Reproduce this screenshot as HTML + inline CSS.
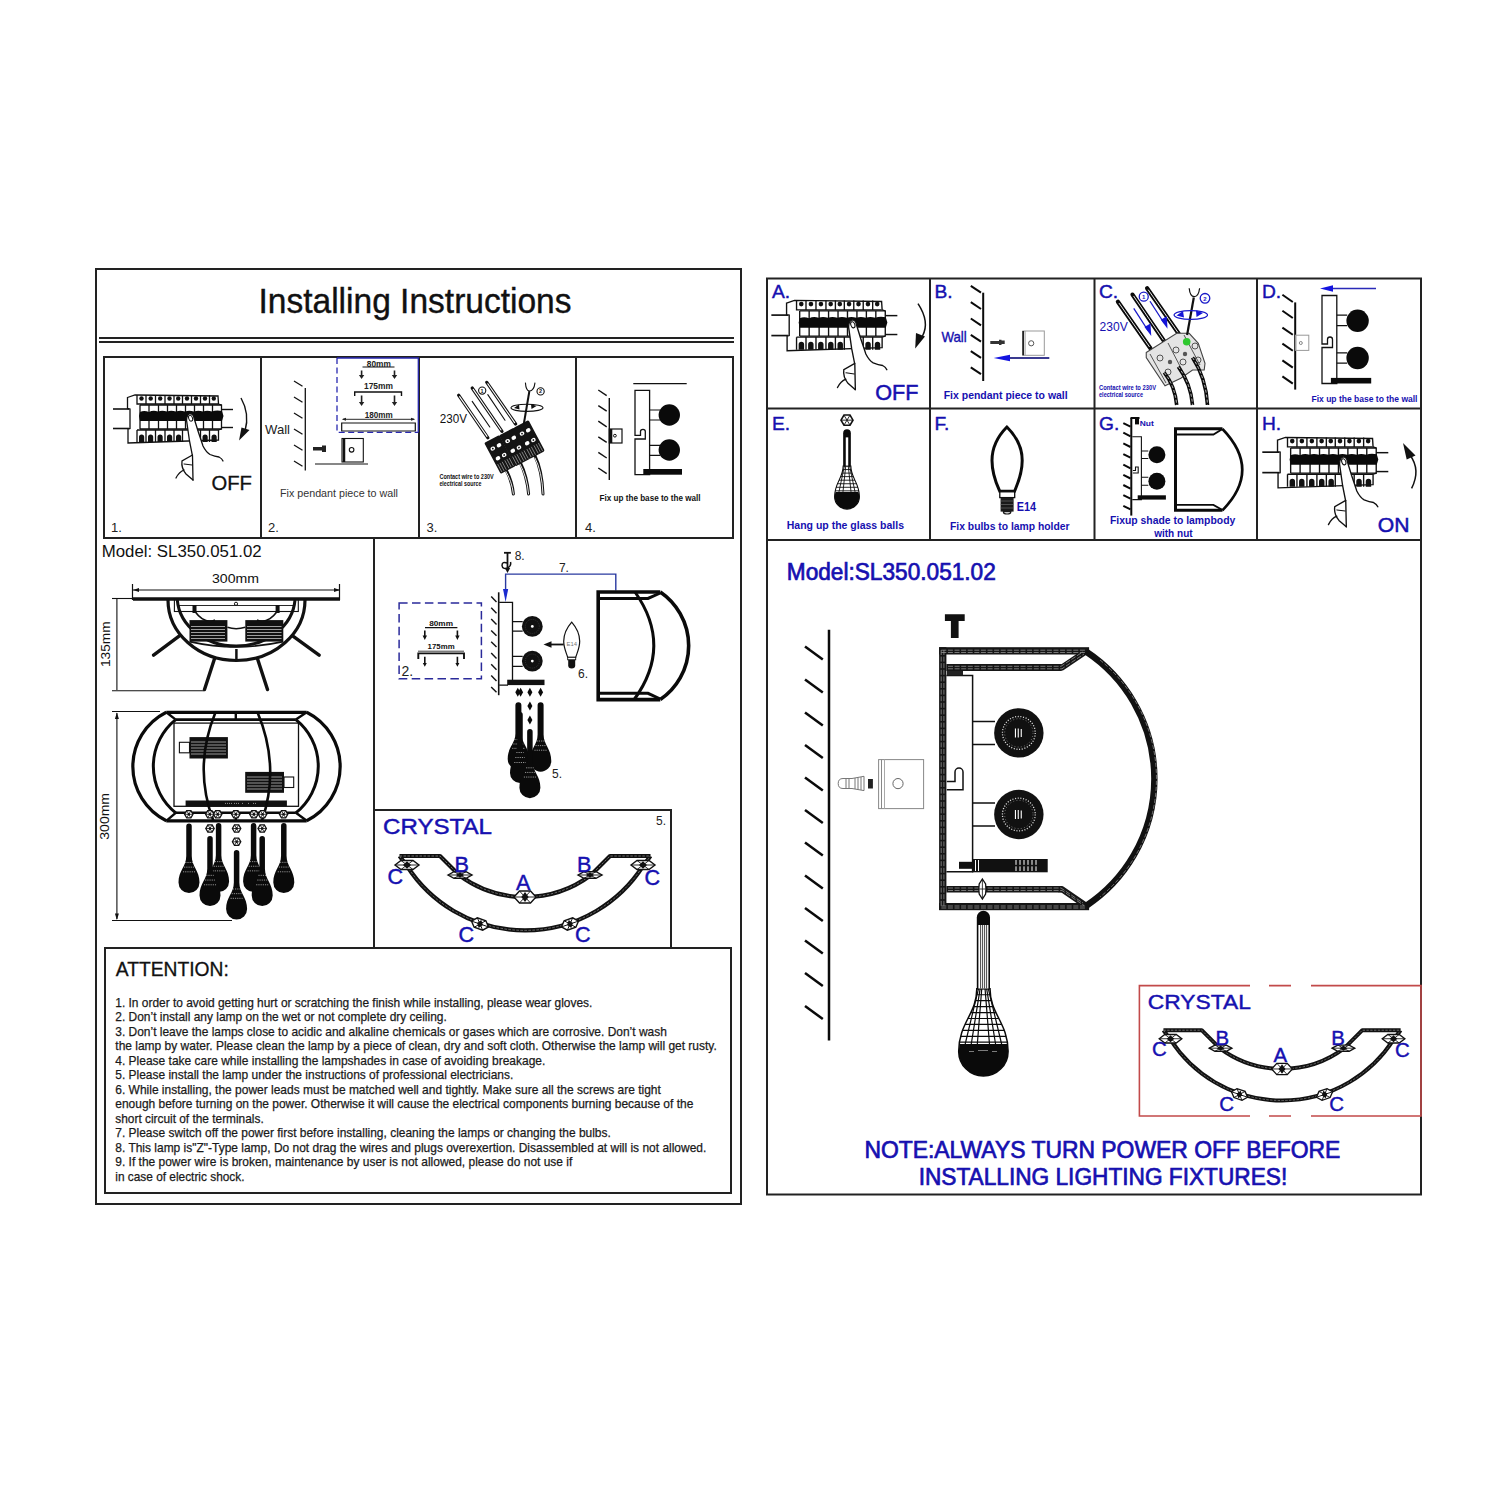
<!DOCTYPE html>
<html><head><meta charset="utf-8">
<style>
html,body{margin:0;padding:0;background:#fff;width:1500px;height:1500px;overflow:hidden;}
svg{display:block;}
text{font-family:"Liberation Sans",sans-serif;}
</style></head><body>
<svg width="1500" height="1500" viewBox="0 0 1500 1500">
<rect width="1500" height="1500" fill="#fff"/>
<defs>
  <g id="breaker">
    <g stroke="#111" stroke-width="1.3" fill="#fff">
      <line x1="113" y1="409" x2="129" y2="409" stroke-width="1.6"/>
      <line x1="113" y1="428.5" x2="129" y2="428.5" stroke-width="1.6"/>
      <line x1="221" y1="409.5" x2="233" y2="409.5" stroke-width="1.4"/>
      <line x1="221" y1="427.5" x2="233" y2="427.5" stroke-width="1.4"/>
      <path d="M127.5 397.5 L135 395 L218 396 L218.5 404 L221.5 405 L221.5 429 L218.5 430 L218.5 440 L128 443 L128 429 L130 428.5 L130 409 L127.5 408.5 Z"/>
      <path d="M137 395 V404 H218 M146 395 V404 M155.5 395 V404 M165 395 V404 M174 395 V404 M182.5 395 V404 M191.5 395 V404 M200.5 395 V404 M209.5 395 V404" fill="none"/>
      <path d="M140 405 H221.5 M140 405 V429 M149 405 V429 M158.5 405 V429 M167.5 405 V429 M176.5 405 V429 M185.5 405 V429 M194.5 405 V429 M203.5 405 V429 M212.5 405 V429 M140 429 H221.5" fill="none"/>
      <path d="M137 430 V442 M137 430 H218.5 M146 430 V442 M155.5 430 V442 M165 430 V442 M174 430 V442 M182.5 430 V442 M191.5 430 V442 M200.5 430 V442 M209.5 430 V442" fill="none"/>
    </g>
    <path d="M140 412 Q144 410 149 412 Q153 410 158 411.5 Q162 410 167 411.5 Q171 410 176 411.5 Q180 410 185 411.5 Q189 410 194 411.5 Q198 410 203 411.5 Q207 410 212 411.5 Q216 410 222 411 L223.5 416 L222 421 H140 L139 416 Z" fill="#0a0a0a"/>
    <g fill="#111">
      <circle cx="141.5" cy="398.5" r="2.2"/><circle cx="150.7" cy="398.5" r="2.2"/><circle cx="160.2" cy="398.5" r="2.2"/><circle cx="169.5" cy="398.5" r="2.2"/><circle cx="178.2" cy="398.5" r="2.2"/><circle cx="187" cy="398.5" r="2.2"/><circle cx="196" cy="398.5" r="2.2"/><circle cx="205" cy="398.5" r="2.2"/><circle cx="213.8" cy="398.5" r="2.2"/>
      <path d="M139 442 V437 A2.6 2.6 0 0 1 144.2 437 V442 Z M148 442 V437 A2.6 2.6 0 0 1 153.2 437 V442 Z M157.5 442 V437 A2.6 2.6 0 0 1 162.7 437 V442 Z M167 442 V437 A2.6 2.6 0 0 1 172.2 437 V442 Z M176 442 V437 A2.6 2.6 0 0 1 181.2 437 V442 Z M202.5 442 V437 A2.6 2.6 0 0 1 207.7 437 V442 Z M211.5 442 V437 A2.6 2.6 0 0 1 216.7 437 V442 Z"/>
    </g>
    <!-- hand -->
    <path d="M186.5 420 Q187 413.5 190.5 413.5 Q193.5 414 194 418 L198 431 L203 446 Q206 452 210 454.5 Q215 456.5 219 457 Q222 458.5 223 461 L214 482 L193 482 L176 478 Q180 470 184 470 Q181 466 182 461 L192.5 456 L189.5 441 Z" fill="#fff" stroke="none"/>
    <g fill="none" stroke="#111" stroke-width="1.3" stroke-linecap="round">
      <path d="M186.5 420 Q187 413.5 190.5 413.5 Q193.5 414 194 418 L198 431 L203 446 Q206 452 210 454.5 Q215 456.5 219 457 Q222 458.5 223 461"/>
      <path d="M186.5 420 L189.5 441 L192.5 456 L193 480"/>
      <path d="M192.5 455 L182 461 Q181 468 186 474 L193 480"/>
      <path d="M176 478 Q179 472 184 470"/>
      <path d="M184 464 L192 465" stroke-width="1"/>
      <ellipse cx="190.6" cy="418.2" rx="1.9" ry="3" transform="rotate(-20 190.6 418.2)" stroke-width="1"/>
    </g>
  </g>
</defs>

<!-- ================= LEFT PAGE FRAME ================= -->
<g fill="none" stroke="#222" stroke-width="2">
  <rect x="96" y="269" width="645" height="935"/>
  <line x1="99" y1="338" x2="734" y2="338"/>
  <line x1="99" y1="342" x2="734" y2="342"/>
  <rect x="104" y="357" width="629" height="181"/>
  <line x1="261" y1="357" x2="261" y2="538"/>
  <line x1="419" y1="357" x2="419" y2="538"/>
  <line x1="576" y1="357" x2="576" y2="538"/>
  <line x1="374" y1="538" x2="374" y2="948"/>
  <rect x="374" y="810" width="297" height="138"/>
  <rect x="105" y="948" width="626" height="245"/>
</g>
<text x="258.5" y="312.7" font-size="35" fill="#111" stroke="#111" stroke-width="0.4" textLength="313" lengthAdjust="spacingAndGlyphs">Installing Instructions</text>

<!-- step numbers -->
<g font-size="13" fill="#222">
  <text x="111" y="531.5">1.</text>
  <text x="268" y="531.5">2.</text>
  <text x="426.5" y="531.5">3.</text>
  <text x="585" y="531.5">4.</text>
</g>

<!-- step 1 -->
<use href="#breaker"/>
<path d="M241 398 Q250 414 245 431" fill="none" stroke="#111" stroke-width="1.4"/>
<path d="M239 440.5 L241.5 427.5 L249.5 430 Z" fill="#111"/>
<text x="211.5" y="489.7" font-size="19.5" fill="#111" stroke="#111" stroke-width="0.3" textLength="40.5" lengthAdjust="spacingAndGlyphs">OFF</text>
<!-- step A -->
<use href="#breaker" transform="translate(652.7,-114.35) scale(1.05)"/>
<path d="M918 303.7 Q930 322 922.5 336" fill="none" stroke="#111" stroke-width="1.5"/>
<path d="M915.2 348.5 L916 333 L925 336.5 Z" fill="#111"/>
<text x="875.3" y="400.4" font-size="21.5" fill="#1610b0" stroke="#1610b0" stroke-width="0.5" textLength="43.2" lengthAdjust="spacingAndGlyphs">OFF</text>
<!-- step H -->
<use href="#breaker" transform="translate(1143.65,22.7) scale(1.05)"/>
<path d="M1411.6 488.3 Q1421 470 1410 455" fill="none" stroke="#111" stroke-width="1.5"/>
<path d="M1403 443 L1406.7 459.5 L1415.5 455.5 Z" fill="#111"/>
<text x="1377.8" y="532" font-size="21" fill="#1610b0" stroke="#1610b0" stroke-width="0.5" textLength="31.7" lengthAdjust="spacingAndGlyphs">ON</text>

<!-- step 2 -->
<g stroke="#111" stroke-width="1.3" fill="none">
  <line x1="294" y1="381.0" x2="302.5" y2="386.3"/><line x1="294" y1="397.0" x2="302.5" y2="402.3"/><line x1="294" y1="413.0" x2="302.5" y2="418.3"/><line x1="294" y1="429.0" x2="302.5" y2="434.3"/><line x1="294" y1="445.0" x2="302.5" y2="450.3"/><line x1="294" y1="461.0" x2="302.5" y2="466.3"/>
  <line x1="305.3" y1="388" x2="305.3" y2="470.5"/>
  <line x1="315" y1="464" x2="368" y2="464" stroke-width="1.2"/>
  <rect x="342" y="438.5" width="21.3" height="23.5" stroke-width="1.1"/>
  <line x1="344" y1="438.5" x2="344" y2="462" stroke-width="2.5"/>
  <circle cx="351.6" cy="449.8" r="2.3" stroke-width="1.1"/>
  <path d="M341.7 423 H415.3 V431 H341.7 Z" stroke-width="1.2"/>
  <path d="M343 419.3 H414" stroke-width="0.9"/>
  <path d="M354.7 396 V392 H401.5 V396" stroke-width="1.4"/>
  <line x1="362.5" y1="367" x2="394.5" y2="367" stroke-width="1"/>
</g>
<path d="M313 447 H322 V445.5 H326 V452 H322 V450.5 H313 Z" fill="#222"/>
<g fill="#222">
  <path d="M341.7 419.3 L346 417.8 V420.8 Z M415.3 419.3 L411 417.8 V420.8 Z"/>
  <path d="M360.8 370.5 H362.4 V375 H364.3 L361.6 379 L358.9 375 H360.8 Z M393.7 370.5 H395.3 V375 H397.2 L394.5 379 L391.8 375 H393.7 Z"/>
  <path d="M360.8 395.5 H362.4 V402 H364.3 L361.6 406 L358.9 402 H360.8 Z M393.7 395.5 H395.3 V402 H397.2 L394.5 406 L391.8 402 H393.7 Z"/>
</g>
<g font-size="8.6" fill="#222" font-weight="bold">
  <text x="366.8" y="366.5" textLength="24" lengthAdjust="spacingAndGlyphs">80mm</text>
  <text x="364" y="389.3" textLength="29" lengthAdjust="spacingAndGlyphs">175mm</text>
  <text x="364.7" y="417.8" textLength="28" lengthAdjust="spacingAndGlyphs">180mm</text>
</g>
<g stroke="#2828b0" stroke-width="1.3" fill="none">
  <path d="M337 358 V432.3 H418.3" stroke-dasharray="6 3.5"/>
  <path d="M337 358 H418.3 V432.3"/>
</g>
<text x="265" y="434" font-size="13" fill="#222" textLength="25" lengthAdjust="spacingAndGlyphs">Wall</text>
<text x="280" y="496.7" font-size="11" fill="#333" textLength="118" lengthAdjust="spacingAndGlyphs">Fix pendant piece to wall</text>

<!-- step B -->
<g stroke="#0a0a0a" stroke-width="2" fill="none">
  <line x1="970.8" y1="285.9" x2="981" y2="292.7"/><line x1="970.8" y1="302.2" x2="981" y2="309.0"/><line x1="970.8" y1="318.5" x2="981" y2="325.3"/><line x1="970.8" y1="334.8" x2="981" y2="341.6"/><line x1="970.8" y1="351.1" x2="981" y2="357.9"/><line x1="970.8" y1="367.4" x2="981" y2="374.2"/>
  <line x1="983.2" y1="292.7" x2="983.2" y2="381"/>
</g>
<path d="M990.3 341 H999 V339.8 H1001.5 V340.5 H1004.7 V344 H1001.5 V345 H999 V344 H990.3 Z" fill="#333"/>
<rect x="1022.8" y="331" width="21.5" height="24.3" fill="none" stroke="#999" stroke-width="1"/>
<line x1="1023.2" y1="331" x2="1023.2" y2="355.3" stroke="#222" stroke-width="1.8"/>
<line x1="1025.2" y1="331" x2="1025.2" y2="355.3" stroke="#999" stroke-width="0.8"/>
<circle cx="1031.2" cy="343.3" r="2.6" fill="none" stroke="#555" stroke-width="1"/>
<line x1="1008" y1="358" x2="1049.3" y2="358" stroke="#3a3a90" stroke-width="2"/>
<path d="M993.7 358 L1010 354.8 V361.2 Z" fill="#1414e0"/>
<text x="941.4" y="342" font-size="14.5" fill="#1610b0" stroke="#1610b0" stroke-width="0.35" textLength="25.4" lengthAdjust="spacingAndGlyphs">Wall</text>
<text x="943.7" y="399.2" font-size="11" font-weight="bold" fill="#1610b0" textLength="124" lengthAdjust="spacingAndGlyphs">Fix pendant piece to wall</text>

<!-- step 4 -->
<g stroke="#111" stroke-width="1.4" fill="none">
  <line x1="598.3" y1="390.0" x2="606.7" y2="395.6"/><line x1="598.3" y1="405.6" x2="606.7" y2="411.2"/><line x1="598.3" y1="421.2" x2="606.7" y2="426.8"/><line x1="598.3" y1="436.8" x2="606.7" y2="442.4"/><line x1="598.3" y1="452.4" x2="606.7" y2="458.0"/><line x1="598.3" y1="468.0" x2="606.7" y2="473.6"/>
  <line x1="609.3" y1="398" x2="609.3" y2="480"/>
  <rect x="609.3" y="429" width="12.7" height="14" stroke-width="1.2"/>
  <line x1="633.3" y1="383.6" x2="686.7" y2="383.6" stroke-width="1.3"/>
  <path d="M635 390.4 H649.6 V474.7 H635 V439 H645.3 V431.5 Q645.3 429.3 643 429.3 Q640.5 429.3 640.5 431.5 V435.3 H635 Z" stroke-width="1.3"/>
  <path d="M649.6 410 H660 M649.6 420 H660 M649.6 445.3 H660 M649.6 455.3 H660" stroke-width="1.2"/>
</g>
<rect x="609.3" y="429" width="3" height="14" fill="#111"/>
<circle cx="614.9" cy="435.7" r="1.4" fill="none" stroke="#111" stroke-width="1"/>
<g fill="#0a0a0a">
  <circle cx="669.3" cy="415" r="10.7"/><circle cx="669.3" cy="450" r="10.7"/>
  <rect x="643.3" y="469" width="38.7" height="5.7"/>
</g>
<text x="599.6" y="500.7" font-size="9" font-weight="bold" fill="#111" textLength="101" lengthAdjust="spacingAndGlyphs">Fix up the base to the wall</text>

<!-- step D -->
<g stroke="#0a0a0a" stroke-width="2" fill="none">
  <line x1="1282.4" y1="294.8" x2="1292.8" y2="302.0"/><line x1="1282.4" y1="310.8" x2="1292.8" y2="318.0"/><line x1="1282.4" y1="327.6" x2="1292.8" y2="334.8"/><line x1="1282.4" y1="343.6" x2="1292.8" y2="350.8"/><line x1="1282.4" y1="360.4" x2="1292.8" y2="367.6"/><line x1="1282.4" y1="376.4" x2="1292.8" y2="383.6"/>
  <line x1="1295.2" y1="302.4" x2="1295.2" y2="389.6"/>
</g>
<rect x="1295.5" y="335.2" width="13.3" height="15.2" fill="none" stroke="#999" stroke-width="1"/>
<circle cx="1300.8" cy="343" r="1.5" fill="none" stroke="#777" stroke-width="0.9"/>
<g stroke="#111" stroke-width="1.3" fill="none">
  <path d="M1322 295.5 H1336.8 V383.5 H1322 V347.5 H1332.5 V339.5 Q1332.5 337 1330 337 Q1327.5 337 1327.5 339.5 V344 H1322 Z"/>
  <path d="M1336.8 315.2 H1347.2 M1336.8 325.6 H1347.2 M1336.8 352.8 H1347.2 M1336.8 363.2 H1347.2" stroke-width="1.2"/>
</g>
<g fill="#0a0a0a">
  <circle cx="1357.6" cy="320.8" r="11.2"/><circle cx="1357.6" cy="358" r="11.2"/>
  <rect x="1330.9" y="377.9" width="40.3" height="5.6"/>
</g>
<line x1="1330" y1="288.5" x2="1376" y2="288.5" stroke="#2a2ab8" stroke-width="1.6"/>
<path d="M1320 288.5 L1333 285.3 V291.7 Z" fill="#1414e0"/>
<text x="1311.5" y="402" font-size="9.5" font-weight="bold" fill="#1610b0" textLength="106" lengthAdjust="spacingAndGlyphs">Fix up the base to the wall</text>

<!-- step G -->
<g stroke="#0a0a0a" stroke-width="2" fill="none">
  <line x1="1123.3" y1="423.1" x2="1130.5" y2="426.7"/><line x1="1123.3" y1="432.7" x2="1130.5" y2="436.3"/><line x1="1123.3" y1="443.4" x2="1130.5" y2="447.0"/><line x1="1123.3" y1="454.1" x2="1130.5" y2="457.7"/><line x1="1123.3" y1="464.7" x2="1130.5" y2="468.3"/><line x1="1123.3" y1="474.9" x2="1130.5" y2="478.5"/><line x1="1123.3" y1="485.0" x2="1130.5" y2="488.6"/><line x1="1123.3" y1="495.1" x2="1130.5" y2="498.7"/><line x1="1123.3" y1="505.8" x2="1130.5" y2="509.4"/>
  <line x1="1131.3" y1="418" x2="1131.3" y2="515.6"/>
  <line x1="1130.5" y1="418" x2="1139.5" y2="418"/>
</g>
<rect x="1135" y="418" width="4" height="6.4" fill="#0a0a0a"/>
<text x="1139.8" y="426" font-size="7.8" font-weight="bold" fill="#1610b0" textLength="14" lengthAdjust="spacingAndGlyphs">Nut</text>
<g stroke="#111" stroke-width="1.1" fill="none">
  <path d="M1132.3 436.7 H1141.4 V499.6 H1132.3"/>
  <path d="M1132.9 473 H1138.2 V467 H1135.5 V470.5 H1132.9"/>
  <path d="M1141.4 451 H1148.3 M1141.4 458.5 H1148.3 M1141.4 477.2 H1148.3 M1141.4 485.2 H1148.3"/>
</g>
<g fill="#0a0a0a">
  <circle cx="1156.9" cy="454.8" r="8.5"/><circle cx="1156.9" cy="481.3" r="8.5"/>
  <rect x="1137.7" y="495.3" width="28.2" height="4.3"/>
</g>
<g stroke="#0a0a0a" fill="none">
  <path d="M1222.5 428.7 H1175.5 V510.3 H1222.5" stroke-width="3"/>
  <path d="M1177 434.5 H1213.4 L1222.5 429 M1177 504.9 H1213.4 L1222.5 510" stroke-width="1.8"/>
  <path d="M1222.5 429 Q1262 470 1222.5 510.3" stroke-width="2.6"/>
</g>
<text x="1109.9" y="523.6" font-size="11" font-weight="bold" fill="#1610b0" textLength="125.4" lengthAdjust="spacingAndGlyphs">Fixup shade to lampbody</text>
<text x="1154.2" y="537" font-size="11" font-weight="bold" fill="#1610b0" textLength="38.4" lengthAdjust="spacingAndGlyphs">with nut</text>

<!-- step 3 -->
<g stroke-linecap="round" fill="none">
  <g stroke="#111" stroke-width="3.2">
    <line x1="458.6" y1="395.2" x2="487.9" y2="437.8"/>
    <line x1="472.2" y1="388" x2="502" y2="431.4"/>
    <line x1="486.8" y1="382.4" x2="515.6" y2="424"/>
  </g>
  <g stroke="#fff" stroke-width="1.1">
    <line x1="459.6" y1="396.6" x2="487" y2="436.4"/>
    <line x1="473.2" y1="389.4" x2="501" y2="430"/>
    <line x1="487.8" y1="383.8" x2="514.6" y2="422.6"/>
  </g>
  <g stroke="#111" stroke-width="1.1">
    <line x1="472.2" y1="401.4" x2="489.8" y2="427"/>
    <line x1="487.8" y1="394.6" x2="505" y2="420.2"/>
  </g>
  <g stroke="#111" stroke-width="3">
    <path d="M505 468 Q512 480 513.4 494"/>
    <path d="M520 462 Q527 476 528.6 494"/>
    <path d="M535 456 Q542 470 543 494"/>
  </g>
  <g stroke="#fff" stroke-width="0.9">
    <path d="M505 470 Q512 481 513.4 494"/>
    <path d="M520 464 Q527 477 528.6 494"/>
    <path d="M535 458 Q542 471 543 494"/>
  </g>
</g>
<g transform="translate(484.2,443) rotate(-28)">
  <rect x="0" y="0" width="17" height="35" rx="1.5" fill="#141414"/>
  <path d="M0 2 Q4 -1 8.5 2 Q13 -1 17 2" fill="#141414"/>
  <ellipse cx="5" cy="9" rx="2.4" ry="2" fill="#fff"/><ellipse cx="12" cy="9" rx="2.4" ry="2" fill="#fff"/>
  <ellipse cx="5" cy="20" rx="2.4" ry="2" fill="#fff"/><ellipse cx="12" cy="20" rx="2.4" ry="2" fill="#fff"/>
  <circle cx="5" cy="9" r="0.9" fill="#141414"/><circle cx="12" cy="20" r="0.9" fill="#141414"/>
  <path d="M2 25 V34 M4.5 25 V34 M7 25 V34 M10 25 V34 M12.5 25 V34 M15 25 V34" stroke="#fff" stroke-width="0.6" opacity="0.7"/>
</g>
<g transform="translate(499,435.5) rotate(-28)">
  <rect x="0" y="0" width="17" height="35" rx="1.5" fill="#141414"/>
  <path d="M0 2 Q4 -1 8.5 2 Q13 -1 17 2" fill="#141414"/>
  <ellipse cx="5" cy="9" rx="2.4" ry="2" fill="#fff"/><ellipse cx="12" cy="9" rx="2.4" ry="2" fill="#fff"/>
  <ellipse cx="5" cy="20" rx="2.4" ry="2" fill="#fff"/><ellipse cx="12" cy="20" rx="2.4" ry="2" fill="#fff"/>
  <circle cx="5" cy="9" r="0.9" fill="#141414"/><circle cx="12" cy="20" r="0.9" fill="#141414"/>
  <path d="M2 25 V34 M4.5 25 V34 M7 25 V34 M10 25 V34 M12.5 25 V34 M15 25 V34" stroke="#fff" stroke-width="0.6" opacity="0.7"/>
</g>
<g transform="translate(513.4,428) rotate(-28)">
  <rect x="0" y="0" width="17" height="35" rx="1.5" fill="#141414"/>
  <path d="M0 2 Q4 -1 8.5 2 Q13 -1 17 2" fill="#141414"/>
  <ellipse cx="5" cy="9" rx="2.4" ry="2" fill="#fff"/><ellipse cx="12" cy="9" rx="2.4" ry="2" fill="#fff"/>
  <ellipse cx="5" cy="20" rx="2.4" ry="2" fill="#fff"/><ellipse cx="12" cy="20" rx="2.4" ry="2" fill="#fff"/>
  <circle cx="5" cy="9" r="0.9" fill="#141414"/><circle cx="12" cy="20" r="0.9" fill="#141414"/>
  <path d="M2 25 V34 M4.5 25 V34 M7 25 V34 M10 25 V34 M12.5 25 V34 M15 25 V34" stroke="#fff" stroke-width="0.6" opacity="0.7"/>
</g>
<g stroke="#111" fill="none" stroke-width="1.1">
  <circle cx="482.2" cy="390.6" r="3.6"/>
  <circle cx="540.6" cy="391.4" r="3.6"/>
  <path d="M525.4 382.6 Q526 391 529.4 391 Q534 391 535 382.6"/>
  <path d="M529.4 391 L523.8 424" stroke-width="2"/>
  <ellipse cx="527" cy="407.8" rx="16" ry="3.6"/>
</g>
<g fill="#111"><path d="M514 408 L519 404.5 L519.5 409.5 Z M536.5 406 L531 404 L531.5 409 Z"/></g>
<text x="439.8" y="422.6" font-size="12.8" fill="#111" textLength="27.2" lengthAdjust="spacingAndGlyphs">230V</text>
<g font-size="7" font-weight="bold" fill="#111">
  <text x="439.4" y="479" textLength="54.4" lengthAdjust="spacingAndGlyphs">Contact wire to 230V</text>
  <text x="439.4" y="485.8" textLength="42" lengthAdjust="spacingAndGlyphs">electrical source</text>
</g>

<!-- step C -->
<g stroke-linecap="round" fill="none">
  <g stroke="#0a0a0a" stroke-width="4.2">
    <line x1="1117.9" y1="301.7" x2="1150.4" y2="348.3"/>
    <line x1="1132.5" y1="294.6" x2="1164.2" y2="341.25"/>
    <line x1="1147.1" y1="288.3" x2="1178.75" y2="333.75"/>
  </g>
  <g stroke="#fff" stroke-width="0.9">
    <line x1="1119.2" y1="303.4" x2="1149.3" y2="346.6"/>
    <line x1="1133.8" y1="296.3" x2="1163.1" y2="339.5"/>
    <line x1="1148.4" y1="290" x2="1177.6" y2="332"/>
  </g>
</g>
<path d="M1146.25 352.5 L1176.7 333.3 L1189.2 333.3 L1198.3 343.3 L1205 363.3 L1204.2 370 L1192.5 370 L1180.8 378.3 L1165 385.8 L1146.25 357.5 Z" fill="#e4e4e4" stroke="#444" stroke-width="1.1"/>
<g fill="none" stroke="#444" stroke-width="0.9">
  <path d="M1150 354 L1166 383 M1168 343 L1183 372 M1184 335 L1200 365"/>
  <circle cx="1160" cy="358" r="3"/><circle cx="1168" cy="372" r="3"/><circle cx="1176" cy="350" r="3"/><circle cx="1183" cy="362" r="3"/><circle cx="1195" cy="346" r="3"/><circle cx="1198" cy="360" r="3"/>
</g>
<g fill="#555"><circle cx="1170" cy="362" r="2.2"/><circle cx="1185" cy="354" r="2.2"/></g>
<circle cx="1186.7" cy="341.7" r="3.8" fill="#2ec82e"/>
<g stroke="#0a0a0a" stroke-width="3.6" fill="none" stroke-linecap="butt">
  <path d="M1164.2 372.5 Q1175 386 1176.7 405"/>
  <path d="M1178.3 366.7 Q1191 384 1192.5 405"/>
  <path d="M1192.5 357.5 Q1206 378 1207.5 405"/>
</g>
<g stroke="#fff" stroke-width="0.7" fill="none" stroke-dasharray="3 2">
  <path d="M1164.2 372.5 Q1175 386 1176.7 405"/>
  <path d="M1178.3 366.7 Q1191 384 1192.5 405"/>
  <path d="M1192.5 357.5 Q1206 378 1207.5 405"/>
</g>
<g stroke="#111" fill="none" stroke-width="1.2">
  <path d="M1189.2 288.3 Q1190 296.7 1194.2 296.7 Q1198.6 296.7 1199.6 288.3"/>
  <path d="M1193.8 297.5 L1187.1 335" stroke-width="2.2"/>
</g>
<g stroke="#1818c8" fill="none" stroke-width="1.3">
  <circle cx="1143.75" cy="296.7" r="4.5"/>
  <circle cx="1205" cy="298.3" r="4.8"/>
  <ellipse cx="1190.8" cy="315" rx="16.7" ry="4.4"/>
  <line x1="1133.75" y1="308.3" x2="1148" y2="330.5"/>
  <line x1="1150" y1="301.25" x2="1164" y2="323"/>
</g>
<g fill="#1414d8">
  <path d="M1151.25 336 L1144.5 327 L1150.5 323.5 Z"/>
  <path d="M1167.5 328.8 L1160.8 319.8 L1166.8 316.3 Z"/>
  <path d="M1176.5 315.5 L1183 311 L1184 317.5 Z M1203 313 L1196 310.5 L1196.5 317 Z"/>
</g>
<g font-size="6" fill="#1818c8" font-weight="bold"><text x="1142" y="299">1</text><text x="1203.2" y="300.5">2</text></g>
<g font-size="5.5" fill="#111" font-weight="bold"><text x="480.6" y="392.6">1</text><text x="539" y="393.4">2</text></g>
<text x="1099.6" y="330.6" font-size="12" fill="#1610b0" textLength="28.2" lengthAdjust="spacingAndGlyphs">230V</text>
<g font-size="6.6" font-weight="bold" fill="#1610b0">
  <text x="1099" y="390" textLength="57" lengthAdjust="spacingAndGlyphs">Contact wire to 230V</text>
  <text x="1099" y="397.2" textLength="44" lengthAdjust="spacingAndGlyphs">electrical source</text>
</g>

<!-- step E -->
<g fill="none" stroke="#111" stroke-width="1.2">
  <path d="M841 420.15 L844 415.05 H850 L853 420.15 L850 425.25 H844 Z" stroke-width="1.6"/>
  <path d="M841.5 420.15 H852.5 M844.2 415.5 L849.8 424.8 M849.8 415.5 L844.2 424.8" stroke-width="0.9"/>
</g>
<path d="M843.15 466.00 C843.15 478.28 834.60 482.44 834.60 496.70 A12.40 12.40 0 0 0 859.40 496.70 C859.40 482.44 850.85 478.28 850.85 466.00 Z" fill="#fff" stroke="#0a0a0a" stroke-width="1.1"/>
<path d="M842.89 469.55H851.11M842.09 473.10H851.91M840.74 476.64H853.26M839.07 480.19H854.93M837.43 483.74H856.57M836.03 487.29H857.97M835.12 490.84H858.88M845.72 466.00L842.98 491.90M848.28 466.00L851.02 491.90M844.43 466.00L838.96 491.90M849.57 466.00L855.04 491.90" stroke="#0a0a0a" stroke-width="0.88" fill="none"/>
<path d="M835.57 491.90H858.43A12.40 12.40 0 1 1 835.57 491.90Z" fill="#0a0a0a"/>
<path d="M843.15 466.50V433.15A3.85 3.85 0 0 1 850.85 433.15V466.50Z" fill="#0a0a0a"/>
<rect x="845.77" y="437.38" width="2.46" height="28.23" fill="#fff"/>
<text x="786.8" y="528.8" font-size="11" font-weight="bold" fill="#1610b0" textLength="117.2" lengthAdjust="spacingAndGlyphs">Hang up the glass balls</text>
<!-- step F -->
<path d="M1006.9 427 C1016 436 1022.2 448 1022.2 460.5 C1022.2 475 1017 485 1014.5 491.3 H999.8 C997 485 992 475 992 460.5 C992 448 998 436 1006.9 427 Z" fill="none" stroke="#0a0a0a" stroke-width="3"/>
<rect x="999.8" y="491.8" width="14.9" height="5.8" fill="#fff" stroke="#0a0a0a" stroke-width="1.3"/>
<rect x="1000.6" y="497.6" width="13" height="14" fill="#1a1a1a"/>
<path d="M1000.6 501 H1013.6 M1000.6 504.5 H1013.6 M1000.6 508 H1013.6" stroke="#777" stroke-width="0.6"/>
<path d="M1003.4 511.6 H1010.8 V512 Q1010.8 514 1007 514 Q1003.4 514 1003.4 512 Z" fill="#fff" stroke="#1a1a1a" stroke-width="1.2"/>
<text x="1016.7" y="510.5" font-size="12" font-weight="bold" fill="#1610b0" textLength="19.3" lengthAdjust="spacingAndGlyphs">E14</text>
<text x="950" y="530.4" font-size="11" font-weight="bold" fill="#1610b0" textLength="119.5" lengthAdjust="spacingAndGlyphs">Fix bulbs to lamp holder</text>

<!-- ===== RIGHT BIG DRAWING ===== -->
<g stroke="#0a0a0a" stroke-width="2.5" fill="none">
  <line x1="805" y1="646.5" x2="822.8" y2="659.5"/><line x1="805" y1="679.5" x2="822.8" y2="692.5"/><line x1="805" y1="712.5" x2="822.8" y2="725.5"/><line x1="805" y1="745.0" x2="822.8" y2="758.0"/><line x1="805" y1="777.5" x2="822.8" y2="790.5"/><line x1="805" y1="810.0" x2="822.8" y2="823.0"/><line x1="805" y1="842.5" x2="822.8" y2="855.5"/><line x1="805" y1="875.5" x2="822.8" y2="888.5"/><line x1="805" y1="908.0" x2="822.8" y2="921.0"/><line x1="805" y1="940.5" x2="822.8" y2="953.5"/><line x1="805" y1="973.0" x2="822.8" y2="986.0"/><line x1="805" y1="1006.0" x2="822.8" y2="1019.0"/>
  <line x1="829" y1="629.7" x2="829" y2="1040.4"/>
</g>
<path d="M944.9 614.3 H964.7 V621 H958.6 V637.9 H950.9 V621 H944.9 Z" fill="#111"/>
<!-- plate & anchor -->
<g fill="none" stroke="#888" stroke-width="1">
  <rect x="878.6" y="759.6" width="45" height="49"/>
  <line x1="881.5" y1="759.6" x2="881.5" y2="808.6"/>
  <line x1="884.5" y1="759.6" x2="884.5" y2="808.6" stroke="#aaa"/>
  <circle cx="898" cy="783.6" r="5.1" stroke="#666"/>
</g>
<g fill="none" stroke="#777" stroke-width="1">
  <path d="M843 778.5 H852 L864 776.3 V790.6 L852 788.5 H843 Q838.2 788.5 838.2 783.5 Q838.2 778.5 843 778.5 Z"/>
  <path d="M846 778.5 V788.5 M849 778.5 V788.5 M855 778 V789 M858 777.5 V789.5 M861 777 V790"/>
</g>
<rect x="868" y="779" width="4.9" height="9.5" fill="#222"/>
<!-- frame -->
<g fill="#161616">
  <rect x="939.1" y="647.2" width="150" height="7.3"/>
  <rect x="939.1" y="647.2" width="7.3" height="262.8"/>
  <rect x="939.1" y="903" width="150" height="7.2"/>
  <rect x="946.4" y="664" width="115.3" height="7"/>
  <rect x="946.4" y="886" width="115.3" height="6.5"/>
</g>
<g stroke="#161616" stroke-width="6.2" fill="none" stroke-linejoin="round">
  <path d="M1058 667.5 H1062 L1085 652"/>
  <path d="M1058 889.2 H1062 L1085 905"/>
</g>
<g stroke="#fff" stroke-width="0.7" fill="none" stroke-dasharray="5 1.6" opacity="0.6">
  <path d="M941.3 650.2 H1086 M941.3 652.5 H1086"/>
  <path d="M941.3 906 H1086 M941.3 908 H1086"/>
  <path d="M941.2 650 V907 M943.9 650 V907"/>
  <path d="M948 666.3 H1061 L1083 651.8 M948 668.8 H1062 L1084 654"/>
  <path d="M948 888 H1061 L1083 903 M948 890.5 H1062 L1084 905.5"/>
</g>
<path d="M1086 651.5 A152.6 152.6 0 0 1 1086 906" fill="none" stroke="#111" stroke-width="6.4"/>
<path d="M1100 660 A152.6 152.6 0 0 1 1100 897" fill="none" stroke="#fff" stroke-width="0.8" stroke-dasharray="4 2" opacity="0.5"/>
<!-- inner base -->
<g fill="none" stroke="#111" stroke-width="1.5">
  <path d="M946.4 675.5 H972.6 V871.8 H946.4"/>
  <path d="M946.8 781.5 H955 V772 A4 4 0 0 1 963 772 V789.7 H946.8"/>
  <path d="M972.6 721.5 H995 M972.6 744.4 H995 M972.6 803 H995 M972.6 826 H995"/>
</g>
<rect x="947" y="671" width="16" height="4.4" fill="#222"/>
<circle cx="1018.85" cy="732.9" r="24.7" fill="#111"/><circle cx="1018.85" cy="732.9" r="16.4" fill="none" stroke="#fff" stroke-width="1.3" stroke-dasharray="1.1 1.6" opacity="0.85"/><circle cx="1018.85" cy="732.9" r="14.2" fill="none" stroke="#fff" stroke-width="0.8" stroke-dasharray="1 2.2" opacity="0.5"/><path d="M1015.45 728.4 V737.4 M1018.25 728.4 V737.4 M1021.25 728.9 V736.9" stroke="#fff" stroke-width="1.1"/>
<circle cx="1018.85" cy="814.5" r="24.7" fill="#111"/><circle cx="1018.85" cy="814.5" r="16.4" fill="none" stroke="#fff" stroke-width="1.3" stroke-dasharray="1.1 1.6" opacity="0.85"/><circle cx="1018.85" cy="814.5" r="14.2" fill="none" stroke="#fff" stroke-width="0.8" stroke-dasharray="1 2.2" opacity="0.5"/><path d="M1015.45 810.0 V819.0 M1018.25 810.0 V819.0 M1021.25 810.5 V818.5" stroke="#fff" stroke-width="1.1"/>
<!-- black bar -->
<rect x="972" y="859" width="75.7" height="13.3" fill="#111"/>
<rect x="959" y="861.8" width="14" height="7" fill="#111"/>
<path d="M975.5 860 V871 M978.5 860 V871 M1016 860 V871 M1020 860 V871 M1024 860 V871 M1028 860 V871 M1032 860 V871 M1036 860 V871" stroke="#fff" stroke-width="1"/>
<path d="M1014 865.6 H1038" stroke="#111" stroke-width="1.5"/>
<!-- crystal on bar -->
<path d="M982.4 879 L985.6 884 L986 889 L985.6 894 L982.4 899 L979.2 894 L978.8 889 L979.2 884 Z" fill="#fff" stroke="#111" stroke-width="1.3"/>
<path d="M979 889 H986 M982.4 880 V898" stroke="#111" stroke-width="0.8"/>
<path d="M976.80 988.80 C976.80 1013.84 958.70 1023.00 958.70 1051.40 A24.70 24.70 0 0 0 1008.10 1051.40 C1008.10 1023.00 990.00 1013.84 990.00 988.80 Z" fill="#fff" stroke="#0a0a0a" stroke-width="1.5"/>
<path d="M976.43 994.74H990.37M975.33 1000.67H991.47M973.45 1006.61H993.35M970.82 1012.54H995.98M967.89 1018.48H998.91M965.07 1024.41H1001.73M962.50 1030.35H1004.30M960.58 1036.28H1006.22M959.36 1042.22H1007.44M981.75 988.80L977.33 1044.00M985.05 988.80L989.47 1044.00M980.10 988.80L971.26 1044.00M986.70 988.80L995.54 1044.00M978.45 988.80L965.19 1044.00M988.35 988.80L1001.61 1044.00" stroke="#0a0a0a" stroke-width="1.20" fill="none"/>
<path d="M959.83 1044.00H1006.97A24.70 24.70 0 1 1 959.83 1044.00Z" fill="#0a0a0a"/>
<path d="M976.80 989.30V917.40A6.60 6.60 0 0 1 990.00 917.40V989.30Z" fill="#0a0a0a"/>
<rect x="978.4" y="925" width="10" height="63.5" fill="#fff"/>
<path d="M980.6 925 V988.5 M982.6 925 V988.5 M984.6 925 V988.5 M986.6 925 V988.5" stroke="#333" stroke-width="0.9"/>
<path d="M978 1050.5 H988 M969 1051.5 H974 M992 1051.5 H997" stroke="#999" stroke-width="0.8"/>

<!-- ===== CRYSTAL boxes ===== -->
<g id="crystal">
  <path d="M399.5 856 H440 L459 875 A110 110 0 0 0 591 875 L610 856 H650.5 M399.5 856 L407 866 A140.3 140.3 0 0 0 643 866 L650.5 856" fill="none" stroke="#111" stroke-width="4.2" stroke-linejoin="round"/>
  <path d="M399.5 856 H440 L459 875 A110 110 0 0 0 591 875 L610 856 H650.5 M399.5 856 L407 866 A140.3 140.3 0 0 0 643 866 L650.5 856" fill="none" stroke="#777" stroke-width="0.9" stroke-dasharray="2.5 1.5"/>
  <g><path d="M395.0 865 L401.0 860.5 H413.0 L419.0 865 L413.0 869.5 H401.0 Z" fill="#fff" stroke="#111" stroke-width="1.4"/><path d="M395.0 865 H419.0 M401.0 860.5 L413.0 869.5 M413.0 860.5 L401.0 869.5" stroke="#111" stroke-width="0.9"/><path d="M403.0 865 L407 861.25 L411.0 865 L407 868.75 Z" fill="#111"/></g>
  <g><path d="M631.0 865 L637.0 860.5 H649.0 L655.0 865 L649.0 869.5 H637.0 Z" fill="#fff" stroke="#111" stroke-width="1.4"/><path d="M631.0 865 H655.0 M637.0 860.5 L649.0 869.5 M649.0 860.5 L637.0 869.5" stroke="#111" stroke-width="0.9"/><path d="M639.0 865 L643 861.25 L647.0 865 L643 868.75 Z" fill="#111"/></g>
  <g><path d="M448.0 875 L454.0 871.75 H466.0 L472.0 875 L466.0 878.25 H454.0 Z" fill="#fff" stroke="#111" stroke-width="1.4"/><path d="M448.0 875 H472.0 M454.0 871.75 L466.0 878.25 M466.0 871.75 L454.0 878.25" stroke="#111" stroke-width="0.9"/><path d="M456.0 875 L460 872.2916666666666 L464.0 875 L460 877.7083333333334 Z" fill="#111"/></g>
  <g><path d="M578.0 875 L584.0 871.75 H596.0 L602.0 875 L596.0 878.25 H584.0 Z" fill="#fff" stroke="#111" stroke-width="1.4"/><path d="M578.0 875 H602.0 M584.0 871.75 L596.0 878.25 M596.0 871.75 L584.0 878.25" stroke="#111" stroke-width="0.9"/><path d="M586.0 875 L590 872.2916666666666 L594.0 875 L590 877.7083333333334 Z" fill="#111"/></g>
  <g><path d="M514.0 897 L519.5 891.0 H530.5 L536.0 897 L530.5 903.0 H519.5 Z" fill="#fff" stroke="#111" stroke-width="1.4"/><path d="M514.0 897 H536.0 M519.5 891.0 L530.5 903.0 M530.5 891.0 L519.5 903.0" stroke="#111" stroke-width="0.9"/><path d="M521.3333333333334 897 L525 892.0 L528.6666666666666 897 L525 902.0 Z" fill="#111"/></g>
  <g transform="rotate(18.8 480 924)"><path d="M471.0 924 L475.5 919.0 H484.5 L489.0 924 L484.5 929.0 H475.5 Z" fill="#fff" stroke="#111" stroke-width="1.4"/><path d="M471.0 924 H489.0 M475.5 919.0 L484.5 929.0 M484.5 919.0 L475.5 929.0" stroke="#111" stroke-width="0.9"/><path d="M477.0 924 L480 919.8333333333334 L483.0 924 L480 928.1666666666666 Z" fill="#111"/></g>
  <g transform="rotate(-18.8 570 924)"><path d="M561.0 924 L565.5 919.0 H574.5 L579.0 924 L574.5 929.0 H565.5 Z" fill="#fff" stroke="#111" stroke-width="1.4"/><path d="M561.0 924 H579.0 M565.5 919.0 L574.5 929.0 M574.5 919.0 L565.5 929.0" stroke="#111" stroke-width="0.9"/><path d="M567.0 924 L570 919.8333333333334 L573.0 924 L570 928.1666666666666 Z" fill="#111"/></g>
  <g fill="#1610b0" font-size="21.6" stroke="#1610b0" stroke-width="0.45">
    <text x="383" y="833.5" textLength="109" lengthAdjust="spacingAndGlyphs">CRYSTAL</text>
    <text x="387.5" y="883.5">C</text>
    <text x="454.5" y="872">B</text>
    <text x="516" y="890">A</text>
    <text x="577" y="872">B</text>
    <text x="644.5" y="884.7">C</text>
    <text x="458.5" y="941.5">C</text>
    <text x="575" y="941.5">C</text>
  </g>
</g>
<text x="656" y="824.8" font-size="12" fill="#222">5.</text>
<use href="#crystal" transform="translate(785.9,221.3) scale(0.945)"/>


<!-- ===== LEFT: side view ===== -->
<text x="212" y="582.5" font-size="12.5" fill="#111" textLength="47" lengthAdjust="spacingAndGlyphs">300mm</text>
<g stroke="#111" fill="none">
  <path d="M133 590 H340" stroke-width="1.2"/>
  <path d="M132.5 584 V600 M339.5 584 V600" stroke-width="1.2"/>
  <path d="M112 598.5 H133" stroke-width="1.1"/>
  <path d="M112 690.7 H204" stroke-width="1.1"/>
  <path d="M116.9 599 V690" stroke-width="1.1"/>
  <path d="M133 599 H340" stroke-width="3.5"/>
  <path d="M168 600 A68.5 60.5 0 0 0 305 600" stroke-width="3.2"/>
  <path d="M177.3 600 A59 49.5 0 0 0 295 600" stroke-width="3"/>
  <path d="M236.4 649 V661" stroke-width="2.5"/>
  <path d="M179.4 635.9 L153.6 655.2 M292.6 635.9 L319.1 655.2 M214.5 658.8 L204.5 689.6 M257.5 658.8 L267.5 689.6" stroke-width="3.4" stroke-linecap="round"/>
  <rect x="174.4" y="599.3" width="123.9" height="12.2" stroke-width="1.1"/>
  <path d="M178 605.5 H294" stroke-width="0.9"/>
  <circle cx="236" cy="603.8" r="1.6" stroke-width="1"/>
  <path d="M194.5 611 Q205 625 215 620 M277.6 611 Q267 625 257 620" stroke-width="1.6"/>
  <path d="M189.5 641.6 Q236 652 283.3 641.6" stroke-width="1.8"/>
  <path d="M227.4 627.3 Q236 630 245.3 627.3" stroke-width="1.5"/>
</g>
<g fill="#111">
  <path d="M133 590 L139 588 V592 Z M340 590 L334 588 V592 Z"/>
  <rect x="192.5" y="605" width="4" height="8"/>
  <rect x="275.6" y="605" width="4" height="8"/>
  <rect x="189.5" y="620.1" width="37.9" height="21.5"/>
  <rect x="245.3" y="620.1" width="38" height="21.5"/>
</g>
<g stroke="#fff" stroke-width="0.8" opacity="0.75">
  <path d="M191 626.5 H225 M191 629.5 H225 M191 632.5 H225 M191 635.5 H225 M191 638.5 H225"/>
  <path d="M247 626.5 H281.5 M247 629.5 H281.5 M247 632.5 H281.5 M247 635.5 H281.5 M247 638.5 H281.5"/>
</g>
<text transform="translate(110,667) rotate(-90)" font-size="12.5" fill="#111" textLength="45.5" lengthAdjust="spacingAndGlyphs">135mm</text>

<!-- ===== LEFT: front view ===== -->
<g stroke="#111" fill="none">
  <path d="M112 711.5 H160" stroke-width="1.1"/>
  <path d="M112 920.5 H232" stroke-width="1.1"/>
  <path d="M116.9 713 V919" stroke-width="1.1"/>
  <rect x="174" y="723.1" width="124.5" height="83.2" stroke-width="1.3"/>
</g>
<path d="M116.9 712.5 L114.9 719 H118.9 Z M116.9 920 L114.9 913.5 H118.9 Z" fill="#111"/>
<text transform="translate(109,839.7) rotate(-90)" font-size="12.5" fill="#111" textLength="46.7" lengthAdjust="spacingAndGlyphs">300mm</text>
<g fill="#111">
  <rect x="189.5" y="737.1" width="38.4" height="21.4"/>
  <rect x="245.2" y="771.9" width="38.8" height="20.9"/>
  <rect x="185.6" y="800.5" width="101.3" height="5.8"/>
</g>
<g stroke="#fff" stroke-width="0.8" opacity="0.7">
  <path d="M191 742 H226 M191 745 H226 M191 748 H226 M191 751 H226 M191 754 H226"/>
  <path d="M247 777 H282 M247 780 H282 M247 783 H282 M247 786 H282 M247 789 H282"/>
  <path d="M225 803.4 H232 M234 803.4 H239 M242 803.4 H244 M248 803.4 H250 M253 803.4 H256" stroke-dasharray="1 1"/>
</g>
<g fill="#fff" stroke="#111" stroke-width="1.1">
  <rect x="179.4" y="742.3" width="10.1" height="10.5"/>
  <rect x="284" y="777" width="9.7" height="10.5"/>
</g>
<g stroke="#0a0a0a" fill="none" stroke-width="3.2" stroke-linejoin="round">
  <path d="M166.3 712.3 H306.7 M166.3 820.8 H306.7"/>
  <path d="M175.7 719.6 H295.9 M175.7 812.8 H295.9" stroke-width="2.6"/>
  <path d="M166.3 712.3 L175.7 719.6 M306.7 712.3 L295.9 719.6 M166.3 820.8 L175.7 812.8 M306.7 820.8 L295.9 812.8" stroke-width="2.4"/>
  <path d="M235.8 712 V720 M235.8 812.8 V821" stroke-width="2.4"/>
  <path d="M166.3 712.3 A60.7 60.7 0 0 0 166.3 820.8 M306.7 712.3 A60.7 60.7 0 0 1 306.7 820.8"/>
  <path d="M175.7 719.6 A59.7 59.7 0 0 0 175.7 812.8 M295.9 719.6 A59.7 59.7 0 0 1 295.9 812.8" stroke-width="3"/>
  <path d="M215.5 712.3 Q193 767 213.4 820.8 M257.5 712.3 Q280.5 767 261.9 820.8" stroke-width="2.6"/>
</g>
<polygon points="193.00,814.30 190.90,817.94 186.70,817.94 184.60,814.30 186.70,810.66 190.90,810.66" fill="#fff" stroke="#111" stroke-width="1.3"/><path d="M184.60000000000002 814.3 H193.0 M186.70000000000002 810.646 L190.9 817.954 M190.9 810.646 L186.70000000000002 817.954" stroke="#111" stroke-width="0.8"/><circle cx="188.8" cy="814.3" r="1.2" fill="#111"/><polygon points="214.00,814.30 211.90,817.94 207.70,817.94 205.60,814.30 207.70,810.66 211.90,810.66" fill="#fff" stroke="#111" stroke-width="1.3"/><path d="M205.60000000000002 814.3 H214.0 M207.70000000000002 810.646 L211.9 817.954 M211.9 810.646 L207.70000000000002 817.954" stroke="#111" stroke-width="0.8"/><circle cx="209.8" cy="814.3" r="1.2" fill="#111"/><polygon points="221.90,814.30 219.80,817.94 215.60,817.94 213.50,814.30 215.60,810.66 219.80,810.66" fill="#fff" stroke="#111" stroke-width="1.3"/><path d="M213.5 814.3 H221.89999999999998 M215.6 810.646 L219.79999999999998 817.954 M219.79999999999998 810.646 L215.6 817.954" stroke="#111" stroke-width="0.8"/><circle cx="217.7" cy="814.3" r="1.2" fill="#111"/><polygon points="240.00,814.30 237.90,817.94 233.70,817.94 231.60,814.30 233.70,810.66 237.90,810.66" fill="#fff" stroke="#111" stroke-width="1.3"/><path d="M231.60000000000002 814.3 H240.0 M233.70000000000002 810.646 L237.9 817.954 M237.9 810.646 L233.70000000000002 817.954" stroke="#111" stroke-width="0.8"/><circle cx="235.8" cy="814.3" r="1.2" fill="#111"/><polygon points="258.10,814.30 256.00,817.94 251.80,817.94 249.70,814.30 251.80,810.66 256.00,810.66" fill="#fff" stroke="#111" stroke-width="1.3"/><path d="M249.70000000000002 814.3 H258.1 M251.8 810.646 L256.0 817.954 M256.0 810.646 L251.8 817.954" stroke="#111" stroke-width="0.8"/><circle cx="253.9" cy="814.3" r="1.2" fill="#111"/><polygon points="266.80,814.30 264.70,817.94 260.50,817.94 258.40,814.30 260.50,810.66 264.70,810.66" fill="#fff" stroke="#111" stroke-width="1.3"/><path d="M258.40000000000003 814.3 H266.8 M260.5 810.646 L264.70000000000005 817.954 M264.70000000000005 810.646 L260.5 817.954" stroke="#111" stroke-width="0.8"/><circle cx="262.6" cy="814.3" r="1.2" fill="#111"/><polygon points="287.80,814.30 285.70,817.94 281.50,817.94 279.40,814.30 281.50,810.66 285.70,810.66" fill="#fff" stroke="#111" stroke-width="1.3"/><path d="M279.40000000000003 814.3 H287.8 M281.5 810.646 L285.70000000000005 817.954 M285.70000000000005 810.646 L281.5 817.954" stroke="#111" stroke-width="0.8"/><circle cx="283.6" cy="814.3" r="1.2" fill="#111"/>
<path d="M186.25 826.25 A2.75 2.75 0 0 1 191.75 826.25 V855.95 C191.75 866.57 199.50 870.42 199.50 882.50 A10.50 10.50 0 0 1 178.50 882.50 C178.50 870.42 186.25 866.57 186.25 855.95 Z" fill="#0a0a0a"/>
<path d="M185.22 862.49H192.78M184.09 867.15H193.91M182.96 871.82H195.04" stroke="#fff" stroke-width="0.7" stroke-dasharray="1.2 1" opacity="0.8"/>
<path d="M215.85 825.75 A2.75 2.75 0 0 1 221.35 825.75 V855.17 C221.35 865.70 229.10 869.42 229.10 881.50 A10.50 10.50 0 0 1 208.10 881.50 C208.10 869.42 215.85 865.70 215.85 855.17 Z" fill="#0a0a0a"/>
<path d="M214.82 861.63H222.38M213.69 866.25H223.51M212.56 870.86H224.64" stroke="#fff" stroke-width="0.7" stroke-dasharray="1.2 1" opacity="0.8"/>
<path d="M250.85 825.75 A2.75 2.75 0 0 1 256.35 825.75 V855.17 C256.35 865.70 264.10 869.42 264.10 881.50 A10.50 10.50 0 0 1 243.10 881.50 C243.10 869.42 250.85 865.70 250.85 855.17 Z" fill="#0a0a0a"/>
<path d="M249.82 861.63H257.38M248.69 866.25H258.51M247.56 870.86H259.64" stroke="#fff" stroke-width="0.7" stroke-dasharray="1.2 1" opacity="0.8"/>
<path d="M281.05 825.75 A2.75 2.75 0 0 1 286.55 825.75 V855.73 C286.55 866.44 294.30 870.42 294.30 882.50 A10.50 10.50 0 0 1 273.30 882.50 C273.30 870.42 281.05 866.44 281.05 855.73 Z" fill="#0a0a0a"/>
<path d="M280.02 862.34H287.58M278.89 867.07H288.71M277.76 871.79H289.84" stroke="#fff" stroke-width="0.7" stroke-dasharray="1.2 1" opacity="0.8"/>
<path d="M207.25 838.75 A2.75 2.75 0 0 1 212.75 838.75 V868.73 C212.75 879.44 220.50 883.42 220.50 895.50 A10.50 10.50 0 0 1 199.50 895.50 C199.50 883.42 207.25 879.44 207.25 868.73 Z" fill="#0a0a0a"/>
<path d="M206.22 875.34H213.78M205.09 880.07H214.91M203.96 884.79H216.04" stroke="#fff" stroke-width="0.7" stroke-dasharray="1.2 1" opacity="0.8"/>
<path d="M259.45 838.75 A2.75 2.75 0 0 1 264.95 838.75 V868.73 C264.95 879.44 272.70 883.42 272.70 895.50 A10.50 10.50 0 0 1 251.70 895.50 C251.70 883.42 259.45 879.44 259.45 868.73 Z" fill="#0a0a0a"/>
<path d="M258.42 875.34H265.98M257.29 880.07H267.11M256.16 884.79H268.24" stroke="#fff" stroke-width="0.7" stroke-dasharray="1.2 1" opacity="0.8"/>
<path d="M233.85 852.75 A2.75 2.75 0 0 1 239.35 852.75 V882.45 C239.35 893.07 247.10 896.92 247.10 909.00 A10.50 10.50 0 0 1 226.10 909.00 C226.10 896.92 233.85 893.07 233.85 882.45 Z" fill="#0a0a0a"/>
<path d="M232.82 888.99H240.38M231.69 893.65H241.51M230.56 898.32H242.64" stroke="#fff" stroke-width="0.7" stroke-dasharray="1.2 1" opacity="0.8"/>
<polygon points="214.20,828.50 212.10,832.14 207.90,832.14 205.80,828.50 207.90,824.86 212.10,824.86" fill="#fff" stroke="#111" stroke-width="1.3"/><path d="M205.8 828.5 H214.2 M207.9 824.846 L212.1 832.154 M212.1 824.846 L207.9 832.154" stroke="#111" stroke-width="0.8"/><circle cx="210" cy="828.5" r="1.2" fill="#111"/><polygon points="240.80,828.50 238.70,832.14 234.50,832.14 232.40,828.50 234.50,824.86 238.70,824.86" fill="#fff" stroke="#111" stroke-width="1.3"/><path d="M232.4 828.5 H240.79999999999998 M234.5 824.846 L238.7 832.154 M238.7 824.846 L234.5 832.154" stroke="#111" stroke-width="0.8"/><circle cx="236.6" cy="828.5" r="1.2" fill="#111"/><polygon points="266.40,828.50 264.30,832.14 260.10,832.14 258.00,828.50 260.10,824.86 264.30,824.86" fill="#fff" stroke="#111" stroke-width="1.3"/><path d="M258.0 828.5 H266.4 M260.09999999999997 824.846 L264.3 832.154 M264.3 824.846 L260.09999999999997 832.154" stroke="#111" stroke-width="0.8"/><circle cx="262.2" cy="828.5" r="1.2" fill="#111"/><polygon points="240.80,841.80 238.70,845.44 234.50,845.44 232.40,841.80 234.50,838.16 238.70,838.16" fill="#fff" stroke="#111" stroke-width="1.3"/><path d="M232.4 841.8 H240.79999999999998 M234.5 838.146 L238.7 845.454 M238.7 838.146 L234.5 845.454" stroke="#111" stroke-width="0.8"/><circle cx="236.6" cy="841.8" r="1.2" fill="#111"/>

<!-- ===== LEFT: exploded view ===== -->
<rect x="399.1" y="602.9" width="82.3" height="75.8" fill="none" stroke="#2a2a9a" stroke-width="1.5" stroke-dasharray="8.5 4.4"/>
<g font-size="8" font-weight="bold" fill="#111">
  <text x="429.2" y="625.5" textLength="23.8" lengthAdjust="spacingAndGlyphs">80mm</text>
  <text x="427.6" y="648.7" textLength="27" lengthAdjust="spacingAndGlyphs">175mm</text>
</g>
<text x="401.5" y="675.6" font-size="14" fill="#222">2.</text>
<g stroke="#111" fill="none">
  <path d="M425 627.6 H457.4" stroke-width="1.1"/>
  <path d="M418 651.2 H464" stroke-width="0.8"/>
  <path d="M418.3 659 V653.4 H464 V659" stroke-width="1.9"/>
</g>
<g fill="#111">
  <path d="M424 630.6 H425.6 V635.5 H427 L424.8 640 L422.6 635.5 H424 Z M456.6 630.6 H458.2 V635.5 H459.6 L457.4 640 L455.2 635.5 H456.6 Z"/>
  <path d="M424 656.8 H425.6 V663 H426.8 L424.8 666.8 L422.8 663 H424 Z M456.6 656.8 H458.2 V663 H459.4 L457.4 666.8 L455.4 663 H456.6 Z"/>
</g>
<!-- screw 8 -->
<g stroke="#111" fill="none" stroke-width="1.8">
  <path d="M504 552.8 H510.9"/>
  <path d="M507.5 553 V570"/>
  <path d="M507.5 563 Q502 561 502 565.5 Q502.5 569.5 507.5 568 Q511.5 566 510.5 562" stroke-width="1.5"/>
</g>
<path d="M504.8 568 L507.5 573 L510.2 568 Z" fill="#111"/>
<text x="514.7" y="560.3" font-size="12" fill="#222">8.</text>
<text x="558.9" y="571.5" font-size="12" fill="#222">7.</text>
<path d="M505.6 590 V574.1 H615.8 V590.6" fill="none" stroke="#2a3aa0" stroke-width="1.4"/>
<path d="M503 589 L505.6 601.9 L508.2 589 Z" fill="#1a2ad0"/>
<!-- wall + base -->
<g stroke="#111" fill="none" stroke-width="1.4">
  <line x1="491.2" y1="596.5" x2="496.5" y2="601.9"/><line x1="491.2" y1="607.8" x2="496.5" y2="613.2"/><line x1="491.2" y1="619.1" x2="496.5" y2="624.5"/><line x1="491.2" y1="630.4" x2="496.5" y2="635.8"/><line x1="491.2" y1="641.7" x2="496.5" y2="647.1"/><line x1="491.2" y1="653.0" x2="496.5" y2="658.4"/><line x1="491.2" y1="664.3" x2="496.5" y2="669.7"/><line x1="491.2" y1="675.6" x2="496.5" y2="681.0"/><line x1="491.2" y1="686.9" x2="496.5" y2="692.3"/>
  <line x1="498.7" y1="592.3" x2="498.7" y2="695.2" stroke-width="1.6"/>
  <path d="M499.2 602.4 H512.5 V680 M499.2 685.1 H508" stroke-width="1.3"/>
  <path d="M512.5 621.6 H522.7 M512.5 631.2 H522.7 M512.5 656.3 H522.7 M512.5 666.4 H522.7" stroke-width="1.2"/>
</g>
<g fill="#111">
  <circle cx="532.3" cy="626.4" r="10.4"/><circle cx="532.3" cy="661.1" r="10.4"/>
  <rect x="507.2" y="679.7" width="37.3" height="5.4"/>
</g>
<g fill="#fff"><circle cx="532.3" cy="626.4" r="1.4"/><circle cx="532.3" cy="661.1" r="1.4"/></g>
<g fill="none" stroke="#555" stroke-width="0.6" stroke-dasharray="0.8 1.2"><circle cx="532.3" cy="626.4" r="7"/><circle cx="532.3" cy="661.1" r="7"/></g>
<!-- bulb 6 -->
<path d="M571.7 622.1 C576 627 579.7 634 579.7 641.3 C579.7 648 577 653 575.7 657.3 H567.7 C566.4 653 563.7 648 563.7 641.3 C563.7 634 567.4 627 571.7 622.1 Z" fill="#fff" stroke="#111" stroke-width="1.2"/>
<rect x="567.7" y="657.3" width="8" height="2.5" fill="#fff" stroke="#111" stroke-width="0.9"/>
<path d="M568.2 659.8 H575.2 V665.5 Q575.2 668.5 571.7 668.5 Q568.2 668.5 568.2 665.5 Z" fill="#111"/>
<text x="566.6" y="645.5" font-size="6" fill="#777" textLength="10.5" lengthAdjust="spacingAndGlyphs">E14</text>
<path d="M549 644.5 H563.7" stroke="#111" stroke-width="1.8"/>
<path d="M543.5 644.5 L551.5 641.3 V647.7 Z" fill="#111"/>
<text x="578.1" y="678.1" font-size="12" fill="#222">6.</text>
<!-- shade -->
<g stroke="#0a0a0a" fill="none">
  <path d="M660.3 592 H598.2 V699.6 H660.3" stroke-width="3.6"/>
  <path d="M600 598.4 H648 L660.3 593 M600 693.3 H648 L660.3 699" stroke-width="3"/>
  <path d="M635 592 Q673 646 634.2 699.5" stroke-width="3"/>
  <path d="M660.3 592 A65.2 65.2 0 0 1 660.3 699.6" stroke-width="3.6"/>
</g>
<!-- drops 5 -->
<g fill="#0a0a0a"><path d="M517.8 687.8 L520.3 692.3 L517.8 696.8 L515.3 692.3 Z"/><path d="M520.6 687.8 L523.1 692.3 L520.6 696.8 L518.1 692.3 Z"/><path d="M529.9 687.8 L532.4 692.3 L529.9 696.8 L527.4 692.3 Z"/><path d="M540.6 687.8 L543.1 692.3 L540.6 696.8 L538.1 692.3 Z"/><path d="M529.9 701.6 L532.4 706.1 L529.9 710.6 L527.4 706.1 Z"/><path d="M529.9 715.5 L532.4 720 L529.9 724.5 L527.4 720 Z"/></g>
<path d="M515.40 705.30 A3.00 3.00 0 0 1 521.40 705.30 V733.49 C521.40 743.69 529.10 746.70 529.10 759.00 A10.70 10.70 0 0 1 507.70 759.00 C507.70 746.70 515.40 743.69 515.40 733.49 Z" fill="#0a0a0a"/>
<path d="M514.44 739.61H522.36M513.33 743.98H523.47M512.22 748.35H524.58" stroke="#fff" stroke-width="0.7" stroke-dasharray="1.2 1" opacity="0.8"/>
<path d="M537.60 705.30 A3.00 3.00 0 0 1 543.60 705.30 V734.59 C543.60 745.15 551.30 748.70 551.30 761.00 A10.70 10.70 0 0 1 529.90 761.00 C529.90 748.70 537.60 745.15 537.60 734.59 Z" fill="#0a0a0a"/>
<path d="M536.64 741.02H544.56M535.53 745.62H545.67M534.42 750.22H546.78" stroke="#fff" stroke-width="0.7" stroke-dasharray="1.2 1" opacity="0.8"/>
<path d="M517.25 714.75 A2.75 2.75 0 0 1 522.75 714.75 V745.55 C522.75 756.53 530.00 761.50 530.00 773.00 A10.00 10.00 0 0 1 510.00 773.00 C510.00 761.50 517.25 756.53 517.25 745.55 Z" fill="#0a0a0a"/>
<path d="M516.33 752.53H523.67M515.28 757.52H524.72M514.23 762.51H525.77" stroke="#fff" stroke-width="0.7" stroke-dasharray="1.2 1" opacity="0.8"/>
<path d="M527.15 731.85 A2.75 2.75 0 0 1 532.65 731.85 V761.33 C532.65 771.88 540.40 775.62 540.40 787.70 A10.50 10.50 0 0 1 519.40 787.70 C519.40 775.62 527.15 771.88 527.15 761.33 Z" fill="#0a0a0a"/>
<path d="M526.12 767.80H533.68M524.99 772.43H534.81M523.86 777.05H535.94" stroke="#fff" stroke-width="0.7" stroke-dasharray="1.2 1" opacity="0.8"/>
<text x="552.1" y="777.5" font-size="12" fill="#222">5.</text>

<text x="101.7" y="556.5" font-size="15.6" fill="#111" textLength="160" lengthAdjust="spacingAndGlyphs">Model: SL350.051.02</text>

<!-- attention -->
<text x="115.8" y="976" font-size="19.5" fill="#111" stroke="#111" stroke-width="0.3" textLength="113" lengthAdjust="spacingAndGlyphs">ATTENTION:</text>
<g font-size="12.6" fill="#1a1a1a" stroke="#1a1a1a" stroke-width="0.25">
  <text x="115.3" y="1006.5" textLength="477" lengthAdjust="spacingAndGlyphs">1. In order to avoid getting hurt or scratching the finish while installing, please wear gloves.</text>
  <text x="115.3" y="1021" textLength="331.5" lengthAdjust="spacingAndGlyphs">2. Don’t install any lamp on the wet or not complete dry ceiling.</text>
  <text x="115.3" y="1035.5" textLength="551.5" lengthAdjust="spacingAndGlyphs">3. Don’t leave the lamps close to acidic and alkaline chemicals or gases which are corrosive. Don’t wash</text>
  <text x="115.3" y="1050" textLength="601.5" lengthAdjust="spacingAndGlyphs">the lamp by water. Please clean the lamp by a piece of clean, dry and soft cloth. Otherwise the lamp will get rusty.</text>
  <text x="115.3" y="1064.5" textLength="430" lengthAdjust="spacingAndGlyphs">4. Please take care while installing the lampshades in case of avoiding breakage.</text>
  <text x="115.3" y="1079" textLength="398" lengthAdjust="spacingAndGlyphs">5. Please install the lamp under the instructions of professional electricians.</text>
  <text x="115.3" y="1093.5" textLength="545.5" lengthAdjust="spacingAndGlyphs">6. While installing, the power leads must be matched well and tightly. Make sure all the screws are tight</text>
  <text x="115.3" y="1108" textLength="578" lengthAdjust="spacingAndGlyphs">enough before turning on the power. Otherwise it will cause the electrical components burning because of the</text>
  <text x="115.3" y="1122.5" textLength="148.4" lengthAdjust="spacingAndGlyphs">short circuit of the terminals.</text>
  <text x="115.3" y="1137" textLength="495.5" lengthAdjust="spacingAndGlyphs">7. Please switch off the power first before installing, cleaning the lamps or changing the bulbs.</text>
  <text x="115.3" y="1151.5" textLength="591" lengthAdjust="spacingAndGlyphs">8. This lamp is"Z"-Type lamp, Do not drag the wires and plugs overexertion. Disassembled at will is not allowed.</text>
  <text x="115.3" y="1166" textLength="457" lengthAdjust="spacingAndGlyphs">9. If the power wire is broken, maintenance by user is not allowed, please do not use if</text>
  <text x="115.3" y="1180.5" textLength="129.2" lengthAdjust="spacingAndGlyphs">in case of electric shock.</text>
</g>

<!-- ================= RIGHT PAGE FRAME ================= -->
<g fill="none" stroke="#222" stroke-width="2">
  <rect x="767" y="278.5" width="654" height="916"/>
  <line x1="767" y1="408.5" x2="1421" y2="408.5"/>
  <line x1="767" y1="540" x2="1421" y2="540"/>
  <line x1="930" y1="278.5" x2="930" y2="540"/>
  <line x1="1094.5" y1="278.5" x2="1094.5" y2="540"/>
  <line x1="1257" y1="278.5" x2="1257" y2="540"/>
</g>

<g fill="#1610b0" font-size="19.2" stroke="#1610b0" stroke-width="0.45">
  <text x="772" y="297.7">A.</text>
  <text x="934.5" y="297.7">B.</text>
  <text x="1099" y="297.7">C.</text>
  <text x="1262" y="297.7">D.</text>
  <text x="772" y="429.5">E.</text>
  <text x="934.5" y="429.5">F.</text>
  <text x="1099" y="429.5">G.</text>
  <text x="1262" y="429.5">H.</text>
</g>
<text x="786.8" y="579.6" font-size="23" fill="#1610b0" stroke="#1610b0" stroke-width="0.7" textLength="209" lengthAdjust="spacingAndGlyphs">Model:SL350.051.02</text>
<text x="864.4" y="1157.5" font-size="23" fill="#1610b0" stroke="#1610b0" stroke-width="0.7" textLength="476" lengthAdjust="spacingAndGlyphs">NOTE:ALWAYS TURN POWER OFF BEFORE</text>
<text x="918.7" y="1185" font-size="23" fill="#1610b0" stroke="#1610b0" stroke-width="0.7" textLength="368.5" lengthAdjust="spacingAndGlyphs">INSTALLING LIGHTING FIXTURES!</text>

<g fill="none" stroke="#c24a4a" stroke-width="1.6">
  <path d="M1250 985.6 H1139.4 V1116 H1250 M1269 985.6 H1291 M1311 985.6 H1421 V1116 H1311 M1269 1116 H1291"/>
</g>
</svg>
</body></html>
